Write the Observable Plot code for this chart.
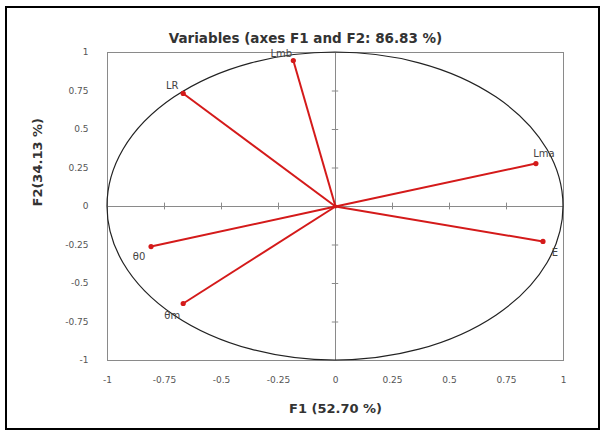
<!DOCTYPE html>
<html>
<head>
<meta charset="utf-8">
<script src="https://cdn.jsdelivr.net/npm/d3@7"></script>
<script src="https://cdn.jsdelivr.net/npm/@observablehq/plot@0.6"></script>
<style>
  html, body { margin: 0; padding: 0; background: #fff; }
  #chart { width: 601px; height: 432px; }
</style>
</head>
<body>
<div id="chart"></div>
<script>
// Variable loadings on F1 / F2
const variables = ["Lmb", "LR", "Lma", "E", "θ0", "θm"];
const f1 = [-0.185, -0.668, 0.879, 0.91, -0.809, -0.668];
const f2 = [0.948, 0.734, 0.279, -0.227, -0.26, -0.63];
const xTicks = [-1, -0.75, -0.5, -0.25, 0, 0.25, 0.5, 0.75, 1];
const yTicks = [-1, -0.75, -0.5, -0.25, 0, 0.25, 0.5, 0.75, 1];
const title = "Variables (axes F1 and F2: 86.83 %)";
const xLabel = "F1 (52.70 %)";
const yLabel = "F2(34.13 %)";

const data = variables.map((v, i) => ({name: v, x: f1[i], y: f2[i]}));

// label placement (style only)
const labelOffset = {
  "Lmb": [-12, -7], "LR": [-11, -8], "Lma": [8, -10],
  "E": [12, 11], "θ0": [-12, 10], "θm": [-11, 12]
};

const red = "#d41a1a";
const font = "Verdana, 'DejaVu Sans', sans-serif";

function decorations(index, scales, values, dims) {
  const svgNS = "http://www.w3.org/2000/svg";
  const g = document.createElementNS(svgNS, "g");
  // correlation circle (unit circle through scales)
  const cx = scales.x(0), cy = scales.y(0);
  const rx = scales.x(1) - cx, ry = cy - scales.y(1);
  const e = document.createElementNS(svgNS, "ellipse");
  e.setAttribute("cx", cx); e.setAttribute("cy", cy);
  e.setAttribute("rx", rx); e.setAttribute("ry", ry);
  e.setAttribute("fill", "none"); e.setAttribute("stroke", "#222");
  e.setAttribute("stroke-width", 1.2);
  g.appendChild(e);
  return g;
}

function outerBox(index, scales, values, dims) {
  const svgNS = "http://www.w3.org/2000/svg";
  const r = document.createElementNS(svgNS, "rect");
  r.setAttribute("x", 6); r.setAttribute("y", 7);
  r.setAttribute("width", 593); r.setAttribute("height", 422);
  r.setAttribute("fill", "none"); r.setAttribute("stroke", "#000");
  r.setAttribute("stroke-width", 2);
  return r;
}

const chart = Plot.plot({
  width: 601,
  height: 432,
  marginLeft: 107,
  marginRight: 38,
  marginTop: 52,
  marginBottom: 72,
  style: {fontFamily: font, background: "#fff", overflow: "visible"},
  x: {domain: [-1, 1], ticks: xTicks},
  y: {domain: [-1, 1], ticks: yTicks},
  marks: [
    outerBox,
    Plot.frame({stroke: "#8a8a8a", strokeWidth: 1}),
    Plot.ruleX([0], {stroke: "#8a8a8a"}),
    Plot.ruleY([0], {stroke: "#8a8a8a"}),
    Plot.ruleX(xTicks.filter(d => d !== 0 && Math.abs(d) !== 1), {x: d => d, y1: -0.022, y2: 0.022, stroke: "#8a8a8a"}),
    Plot.ruleY(yTicks.filter(d => d !== 0 && Math.abs(d) !== 1), {y: d => d, x1: -0.014, x2: 0.014, stroke: "#8a8a8a"}),
    decorations,
    Plot.axisX(xTicks, {tickSize: 0, tickPadding: 16, fontSize: 9, fill: "#555", label: null, tickFormat: d => String(d)}),
    Plot.axisY(yTicks, {tickSize: 0, tickPadding: 19, fontSize: 9, fill: "#555", label: null, tickFormat: d => String(d)}),
    Plot.link(data, {x1: 0, y1: 0, x2: "x", y2: "y", stroke: red, strokeWidth: 2}),
    Plot.dot(data, {x: "x", y: "y", r: 2.6, fill: red}),
    Plot.dot([0], {x: 0, y: 0, r: 2, fill: red}),
    ...variables.map(v => Plot.text(data.filter(d => d.name === v), {
      x: "x", y: "y", text: "name", dx: labelOffset[v][0], dy: labelOffset[v][1],
      fontSize: 10, fill: "#444"
    })),
    Plot.text([title], {frameAnchor: "top", dy: -19, text: d => d, fontSize: 13.5, fontWeight: "bold", fill: "#333", dx: -30}),
    Plot.text([xLabel], {frameAnchor: "bottom", dy: 52, text: d => d, fontSize: 13, fontWeight: "bold", fill: "#333"}),
    Plot.text([yLabel], {frameAnchor: "left", dx: -70, rotate: -90, text: d => d, fontSize: 13, fontWeight: "bold", fill: "#333"})
  ]
});
document.getElementById("chart").appendChild(chart);
</script>
</body>
</html>
